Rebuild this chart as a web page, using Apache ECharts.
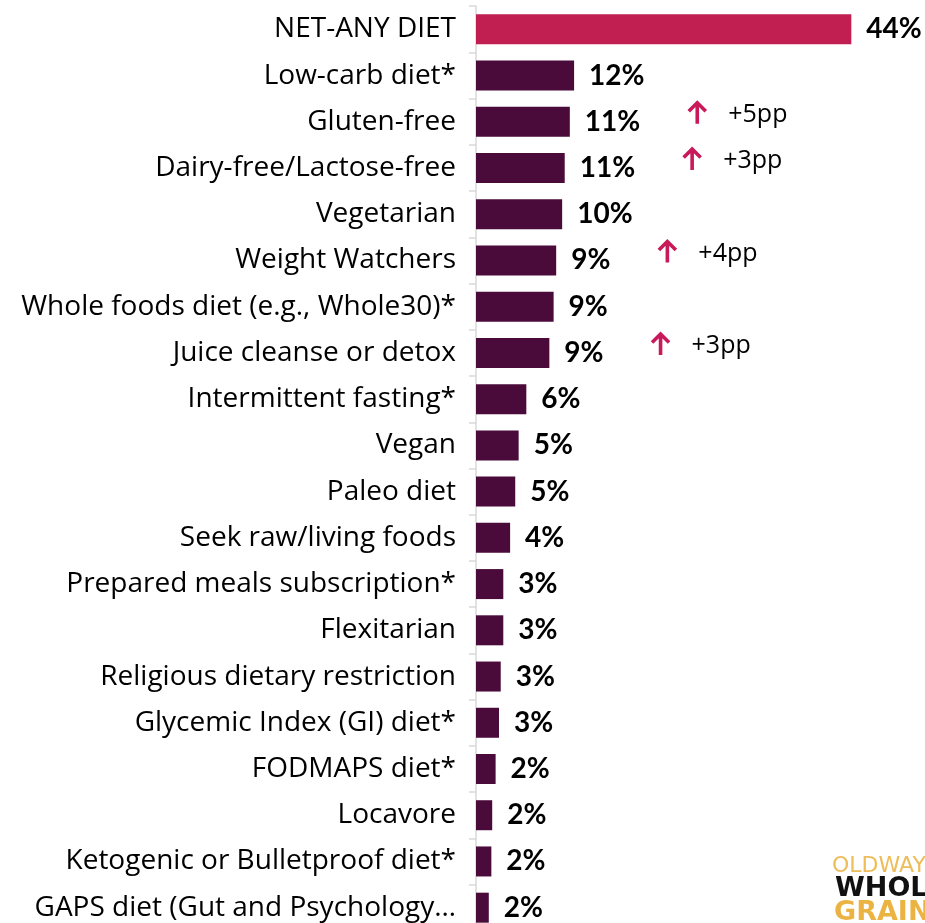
<!DOCTYPE html>
<html>
<head>
<meta charset="utf-8">
<script src="https://cdn.jsdelivr.net/npm/echarts@6/dist/echarts.min.js"></script>
<style>html,body{margin:0;padding:0;background:#fff;overflow:hidden}#c{width:925px;height:940px}</style>
</head>
<body>
<div id="c"></div>
<script>
const categories = ['NET-ANY DIET','Low-carb diet*','Gluten-free','Dairy-free/Lactose-free','Vegetarian','Weight Watchers','Whole foods diet (e.g., Whole30)*','Juice cleanse or detox','Intermittent fasting*','Vegan','Paleo diet','Seek raw/living foods','Prepared meals subscription*','Flexitarian','Religious dietary restriction','Glycemic Index (GI) diet*','FODMAPS diet*','Locavore','Ketogenic or Bulletproof diet*','GAPS diet (Gut and Psychology\u2026'];
const values = [44, 11.5, 11.0, 10.4, 10.1, 9.4, 9.1, 8.6, 5.9, 5.0, 4.6, 4.0, 3.2, 3.2, 2.9, 2.7, 2.3, 1.9, 1.8, 1.5];
const valueLabels = ['44%','12%','11%','11%','10%','9%','9%','9%','6%','5%','5%','4%','3%','3%','3%','3%','2%','2%','2%','2%'];
const changeLabels = ['','','+5pp','+3pp','','+4pp','','+3pp','','','','','','','','','','','',''];

const arrowSvg = 'data:image/svg+xml;charset=utf-8,' + encodeURIComponent(
  '<svg xmlns="http://www.w3.org/2000/svg" width="24" height="44" viewBox="0 0 24 44">' +
  '<path d="M12 24 L12 3.5 M3.5 11.5 L12 3 L20.5 11.5" fill="none" stroke="#C8195A" stroke-width="3.6" stroke-linecap="butt" stroke-linejoin="miter"/></svg>');

const chart = echarts.init(document.getElementById('c'), null, {renderer:'canvas'});
chart.setOption({
  animation:false,
  grid:{left:476, top:6.2, width:426.5, height:924.6, containLabel:false},
  xAxis:{type:'value', min:0, max:50, show:false},
  yAxis:{type:'category', data:categories, inverse:true,
    axisLine:{show:true, lineStyle:{color:'#D9D9D9', width:1.5}},
    axisTick:{show:true, length:7, lineStyle:{color:'#D9D9D9', width:1.5}},
    axisLabel:{fontFamily:'Open Sans', fontSize:28, color:'#000', margin:20}
  },
  series:[{
    type:'bar', barWidth:30,
    data: values.map((v,i)=>({value:v, itemStyle:{color: i===0 ? '#C11F51' : '#4A0B3B'}})),
    label:{show:true, position:'right', distance:15,
      formatter: p => changeLabels[p.dataIndex] ? `{v|${valueLabels[p.dataIndex]}}{s|}{a|}{p|${changeLabels[p.dataIndex]}}` : `{v|${valueLabels[p.dataIndex]}}`,
      rich:{
        v:{fontFamily:'Lato', fontSize:28, fontWeight:'bold', color:'#000'},
        s:{width:45, height:10},
        a:{width:24, height:44, backgroundColor:{image:arrowSvg}},
        p:{fontFamily:'Open Sans', fontSize:25, color:'#000', padding:[0,0,14,19]}
      }
    }
  }],
  graphic:[
    {type:'text', left:832, top:855, style:{text:'OLDWAYS', fontFamily:'DejaVu Sans', fontSize:22, fill:'#EDBD5A'}},
    {type:'text', left:835, top:875, style:{text:'WHOLE', fontFamily:'DejaVu Sans', fontSize:27, fontWeight:'bold', fill:'#111'}},
    {type:'text', left:834, top:899, style:{text:'GRAINS', fontFamily:'DejaVu Sans', fontSize:27, fontWeight:'bold', fill:'#EBB342'}}
  ]
});
</script>
</body>
</html>
